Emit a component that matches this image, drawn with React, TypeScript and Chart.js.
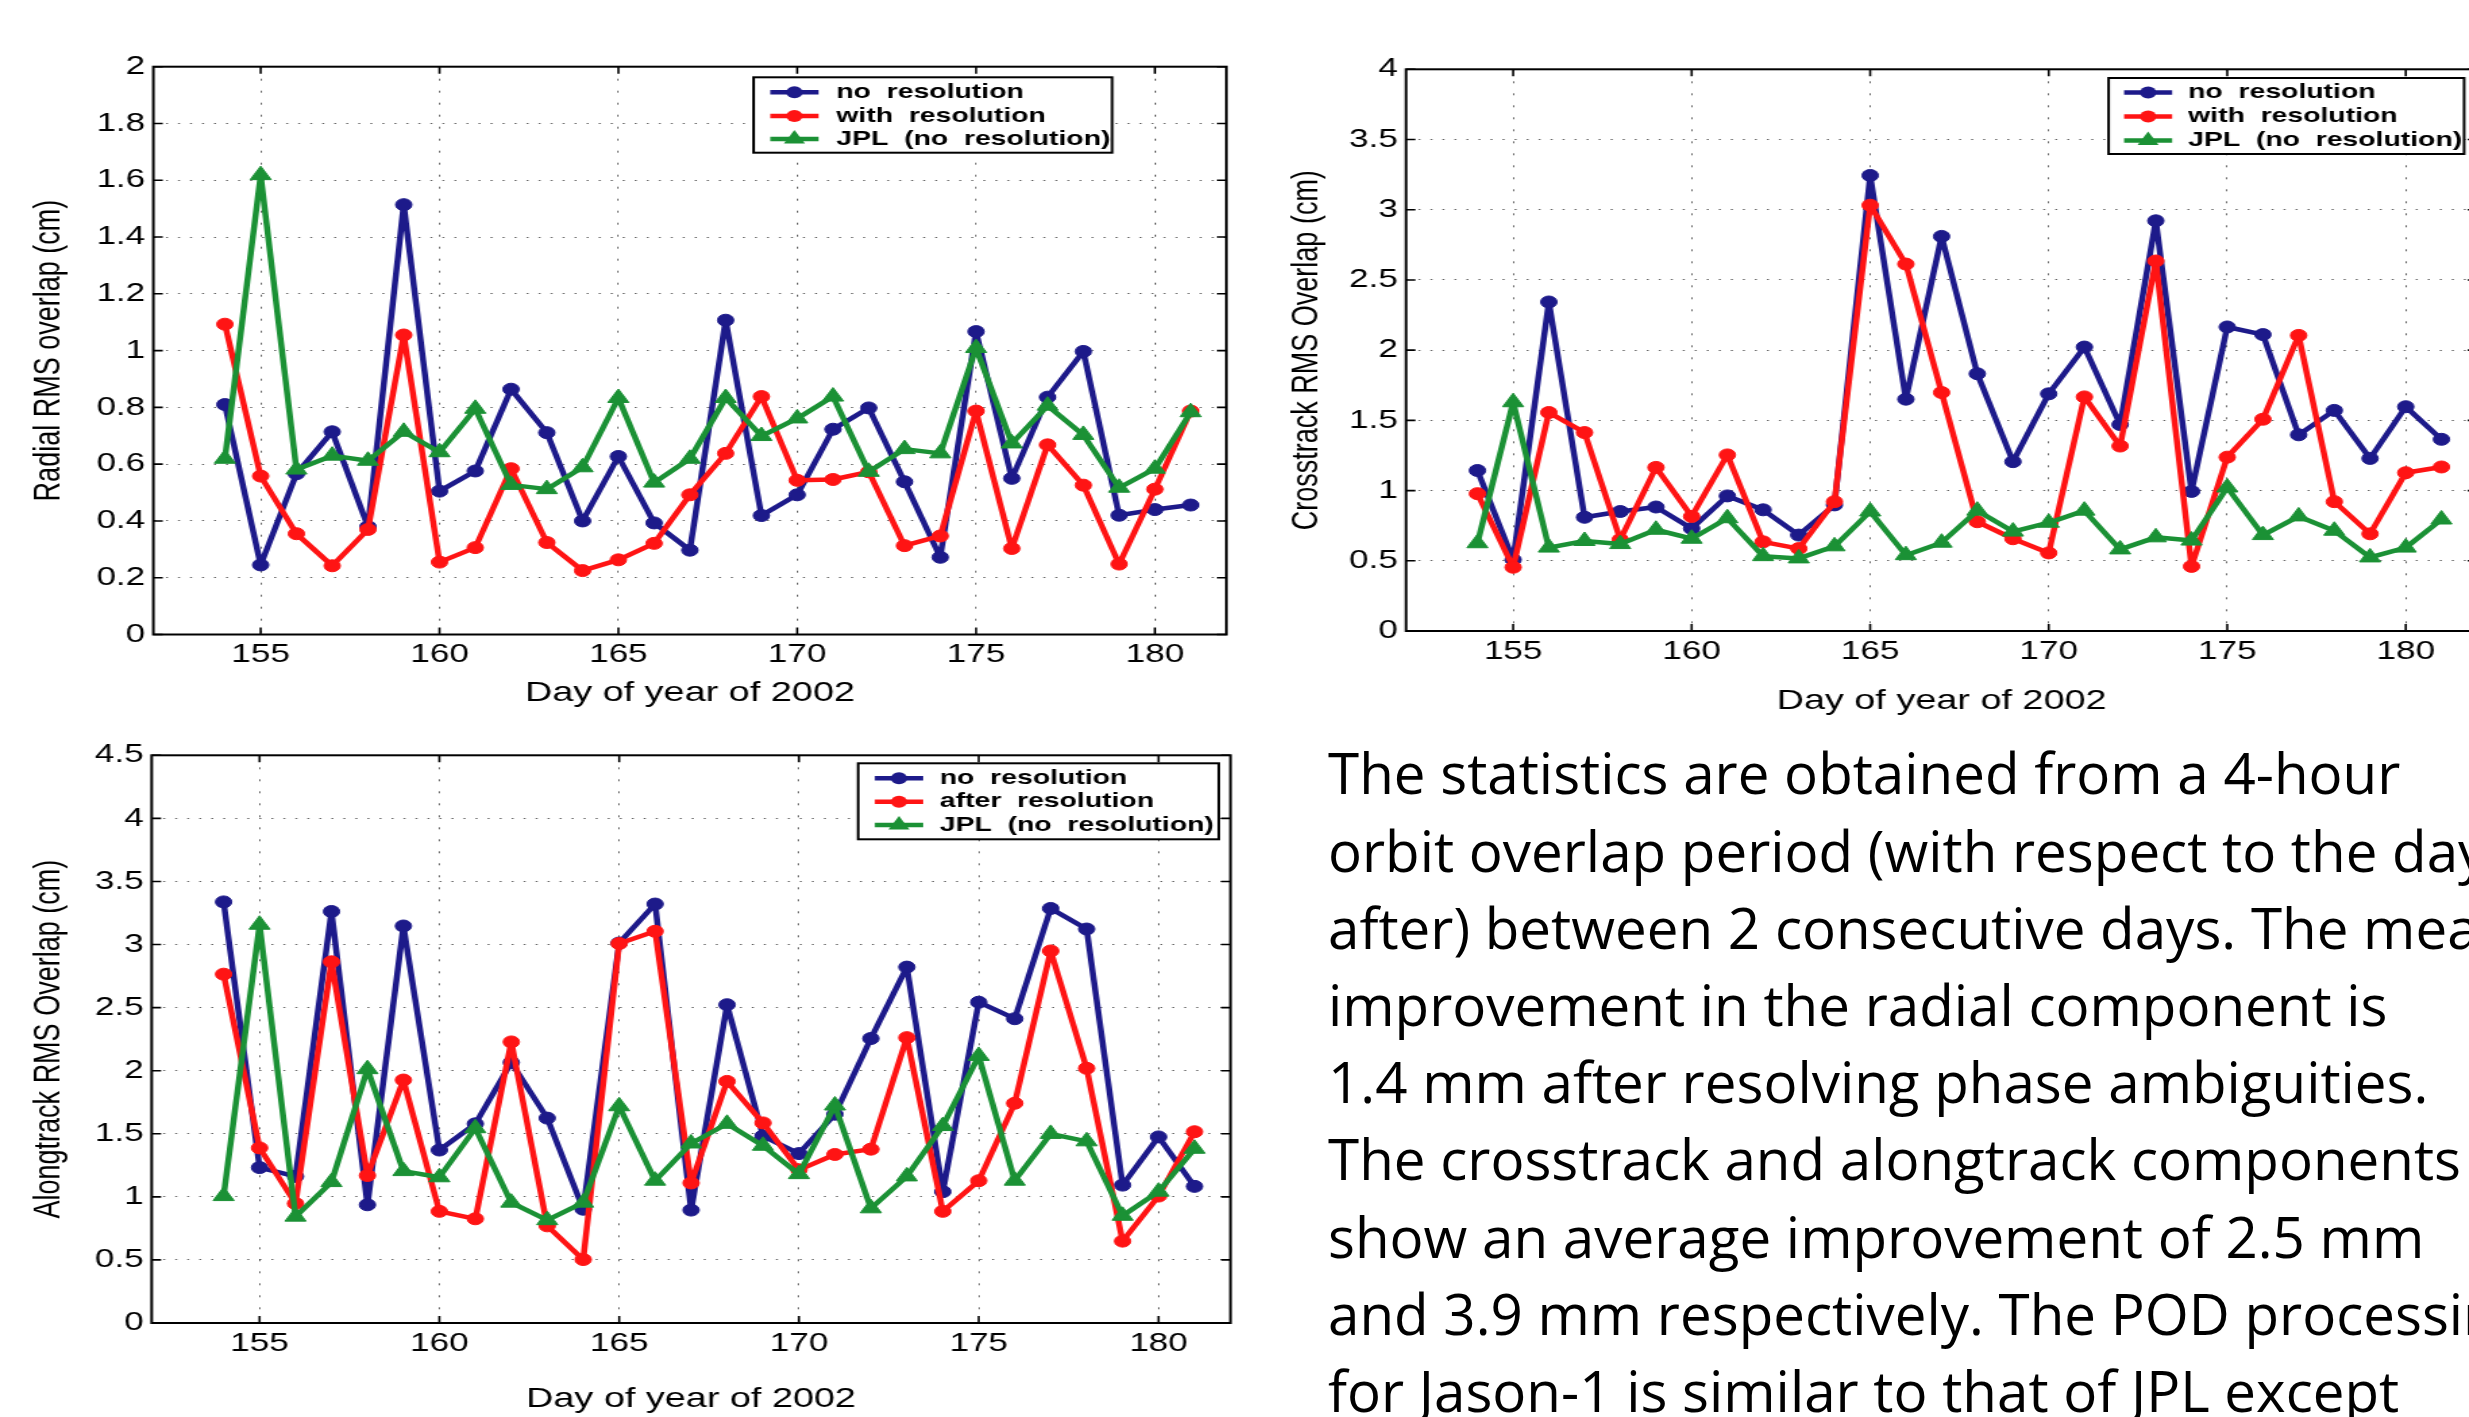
import React, { useEffect, useLayoutEffect, useRef, useState } from 'react';
import { Chart, registerables } from 'chart.js';

Chart.register(...registerables);

// ---------- data ----------
const days = [154, 155, 156, 157, 158, 159, 160, 161, 162, 163, 164, 165, 166, 167, 168, 169, 170, 171, 172, 173, 174, 175, 176, 177, 178, 179, 180, 181];

const radialNoRes = [0.81, 0.245, 0.566, 0.714, 0.38, 1.514, 0.505, 0.576, 0.864, 0.711, 0.40, 0.627, 0.393, 0.297, 1.107, 0.419, 0.492, 0.723, 0.798, 0.538, 0.272, 1.067, 0.55, 0.836, 0.997, 0.42, 0.44, 0.456];
const radialWithRes = [1.093, 0.558, 0.355, 0.242, 0.37, 1.055, 0.255, 0.306, 0.584, 0.324, 0.225, 0.263, 0.321, 0.492, 0.638, 0.838, 0.543, 0.546, 0.573, 0.313, 0.347, 0.787, 0.303, 0.668, 0.526, 0.248, 0.512, 0.787];
const radialJPL = [0.619, 1.618, 0.581, 0.63, 0.612, 0.714, 0.642, 0.795, 0.527, 0.512, 0.589, 0.833, 0.535, 0.619, 0.833, 0.699, 0.761, 0.838, 0.573, 0.653, 0.638, 1.009, 0.673, 0.806, 0.703, 0.517, 0.584, 0.783];

const crossNoRes = [1.143, 0.508, 2.343, 0.81, 0.851, 0.883, 0.73, 0.962, 0.863, 0.683, 0.898, 3.244, 1.651, 2.81, 1.832, 1.206, 1.689, 2.022, 1.47, 2.921, 0.994, 2.165, 2.111, 1.397, 1.571, 1.229, 1.597, 1.365];
const crossWithRes = [0.978, 0.454, 1.556, 1.413, 0.651, 1.165, 0.816, 1.254, 0.635, 0.587, 0.921, 3.032, 2.613, 1.698, 0.778, 0.657, 0.556, 1.667, 1.317, 2.635, 0.46, 1.238, 1.508, 2.105, 0.921, 0.692, 1.127, 1.168];
const crossJPL = [0.625, 1.629, 0.594, 0.641, 0.619, 0.721, 0.657, 0.803, 0.533, 0.517, 0.603, 0.851, 0.54, 0.629, 0.857, 0.708, 0.771, 0.857, 0.581, 0.667, 0.644, 1.022, 0.683, 0.816, 0.714, 0.524, 0.594, 0.794];

const alongNoRes = [3.338, 1.232, 1.162, 3.262, 0.937, 3.147, 1.371, 1.579, 2.065, 1.624, 0.902, 3.012, 3.321, 0.895, 2.523, 1.482, 1.343, 1.655, 2.255, 2.821, 1.041, 2.543, 2.412, 3.286, 3.123, 1.093, 1.475, 1.083];
const alongAfterRes = [2.765, 1.388, 0.947, 2.863, 1.169, 1.926, 0.885, 0.826, 2.228, 0.77, 0.503, 3.008, 3.105, 1.11, 1.915, 1.586, 1.214, 1.336, 1.378, 2.262, 0.885, 1.128, 1.742, 2.949, 2.019, 0.649, 1.006, 1.516];
const alongJPL = [1.006, 3.157, 0.843, 1.117, 2.012, 1.204, 1.155, 1.544, 0.954, 0.815, 0.954, 1.718, 1.128, 1.423, 1.579, 1.405, 1.18, 1.724, 0.909, 1.162, 1.561, 2.117, 1.128, 1.499, 1.44, 0.85, 1.041, 1.381];

const xTickValues = [155, 160, 165, 170, 175, 180];
const xTickLabels = ['155', '160', '165', '170', '175', '180'];

const radialYTicks = [0, 0.2, 0.4, 0.6, 0.8, 1, 1.2, 1.4, 1.6, 1.8, 2];
const radialYTickLabels = ['0', '0.2', '0.4', '0.6', '0.8', '1', '1.2', '1.4', '1.6', '1.8', '2'];
const crossYTicks = [0, 0.5, 1, 1.5, 2, 2.5, 3, 3.5, 4];
const crossYTickLabels = ['0', '0.5', '1', '1.5', '2', '2.5', '3', '3.5', '4'];
const alongYTicks = [0, 0.5, 1, 1.5, 2, 2.5, 3, 3.5, 4, 4.5];
const alongYTickLabels = ['0', '0.5', '1', '1.5', '2', '2.5', '3', '3.5', '4', '4.5'];

const radialLegend = ['no  resolution', 'with  resolution', 'JPL  (no  resolution)'];
const crossLegend = ['no  resolution', 'with  resolution', 'JPL  (no  resolution)'];
const alongLegend = ['no  resolution', 'after  resolution', 'JPL  (no  resolution)'];

const xTitle = 'Day of year of 2002';

const paragraphLines = [
  'The statistics are obtained from a 4-hour',
  'orbit overlap period (with respect to the day',
  'after) between 2 consecutive days. The mean',
  'improvement in the radial component is',
  '1.4 mm after resolving phase ambiguities.',
  'The crosstrack and alongtrack components',
  'show an average improvement of 2.5 mm',
  'and 3.9 mm respectively. The POD processing',
  'for Jason-1 is similar to that of JPL except',
];

// ---------- styles ----------
const BLUE = '#1d1a8a';
const RED = '#ff1414';
const GREEN = '#1b9135';
const FONT = "'Liberation Sans', Arial, Helvetica, sans-serif";
const STRETCH = 1.35;

// ---------- plugin: MATLAB-like frame, inward ticks, boxed legend ----------
const matlabPlugin = {
  id: 'matlabFrame',
  afterDraw(chart: any, _args: any, opts: any) {
    const { ctx, chartArea: a, scales } = chart;
    const xs = scales.x;
    const ys = scales.y;
    ctx.save();
    ctx.strokeStyle = '#000';
    ctx.lineWidth = 1.6;
    ctx.beginPath();
    for (const t of xs.ticks) {
      const px = xs.getPixelForValue(t.value);
      ctx.moveTo(px, a.bottom);
      ctx.lineTo(px, a.bottom - 7);
      ctx.moveTo(px, a.top);
      ctx.lineTo(px, a.top + 7);
    }
    for (const t of ys.ticks) {
      const py = ys.getPixelForValue(t.value);
      ctx.moveTo(a.left, py);
      ctx.lineTo(a.left + 7, py);
      ctx.moveTo(a.right, py);
      ctx.lineTo(a.right - 7, py);
    }
    ctx.stroke();
    ctx.lineWidth = 2;
    ctx.strokeRect(a.left, a.top, a.right - a.left, a.bottom - a.top);

    // legend
    const lg = opts.legend;
    if (lg) {
      const X = (v: number) => (v - opts.L) / opts.s;
      const Y = (v: number) => v - opts.T;
      const x0 = X(lg.box[0]), y0 = Y(lg.box[1]), x1 = X(lg.box[2]), y1 = Y(lg.box[3]);
      ctx.fillStyle = '#fff';
      ctx.fillRect(x0, y0, x1 - x0, y1 - y0);
      ctx.lineWidth = 2;
      ctx.strokeStyle = '#000';
      ctx.strokeRect(x0, y0, x1 - x0, y1 - y0);
      const datasets = chart.data.datasets;
      lg.rows.forEach((ry: number, i: number) => {
        const ds = datasets[i];
        const yy = Y(ry);
        const lx0 = X(lg.line[0]), lx1 = X(lg.line[1]);
        ctx.strokeStyle = ds.borderColor;
        ctx.lineWidth = ds.borderWidth;
        ctx.beginPath();
        ctx.moveTo(lx0, yy);
        ctx.lineTo(lx1, yy);
        ctx.stroke();
        const cx = (lx0 + lx1) / 2;
        ctx.fillStyle = ds.borderColor;
        ctx.beginPath();
        if (ds.pointStyle === 'triangle') {
          const r = ds.pointRadius;
          ctx.moveTo(cx, yy - r);
          ctx.lineTo(cx + r * Math.sin(Math.PI * 2 / 3), yy + r / 2);
          ctx.lineTo(cx - r * Math.sin(Math.PI * 2 / 3), yy + r / 2);
          ctx.closePath();
        } else {
          ctx.arc(cx, yy, ds.pointRadius, 0, Math.PI * 2);
        }
        ctx.fill();
        ctx.fillStyle = '#000';
        ctx.font = `bold 21px ${FONT}`;
        ctx.textBaseline = 'middle';
        ctx.textAlign = 'left';
        ctx.fillText(lg.labels[i], X(lg.textX), yy);
      });
    }
    ctx.restore();
  },
};

function makeDataset(label: string, values: number[], color: string, style: string, order: number) {
  return {
    label,
    data: days.map((d, i) => ({ x: d, y: values[i] })),
    borderColor: color,
    backgroundColor: color,
    borderWidth: 4.5,
    borderJoinStyle: 'round',
    borderCapStyle: 'round',
    pointStyle: style,
    pointRadius: style === 'triangle' ? 9 : 6,
    pointBackgroundColor: color,
    pointBorderColor: color,
    pointBorderWidth: 1,
    tension: 0,
    fill: false,
    order,
  };
}

interface Spec {
  L: number; T: number; w: number; h: number;
  padTop: number; padRight: number; yAxisW: number; xAxisH: number;
  xTitlePadBottom: number; yTitlePadTop: number;
  yMax: number; yTicks: number[]; yTickLabels: string[]; yTitle: string;
  series: number[][]; legendLabels: string[];
  legend: { box: number[]; rows: number[]; line: number[]; textX: number };
}

function MatlabChart({ spec }: { spec: Spec }) {
  const ref = useRef<HTMLCanvasElement>(null);
  useEffect(() => {
    const colors = [BLUE, RED, GREEN];
    const styles = ['circle', 'circle', 'triangle'];
    const orders = [3, 2, 1];
    const chart = new Chart(ref.current as HTMLCanvasElement, {
      type: 'line',
      data: {
        datasets: spec.series.map((v, i) => makeDataset(spec.legendLabels[i], v, colors[i], styles[i], orders[i])) as any,
      },
      options: {
        animation: false,
        responsive: false,
        maintainAspectRatio: false,
        devicePixelRatio: 1,
        layout: { padding: { top: spec.padTop, right: spec.padRight, left: 0, bottom: 0 } },
        plugins: {
          legend: { display: false },
          tooltip: { enabled: false },
          matlabFrame: {
            L: spec.L, T: spec.T, s: STRETCH,
            legend: { ...spec.legend, labels: spec.legendLabels },
          },
        } as any,
        scales: {
          x: {
            type: 'linear',
            min: 152,
            max: 182,
            afterBuildTicks: (s: any) => { s.ticks = xTickValues.map((v) => ({ value: v })); },
            afterFit: (s: any) => { s.height = spec.xAxisH; },
            ticks: {
              color: '#000',
              font: { family: FONT, size: 26 },
              padding: 5,
              maxRotation: 0,
              autoSkip: false,
              callback: (_v: any, i: number) => xTickLabels[i],
            },
            grid: { color: 'rgba(0,0,0,0.6)', lineWidth: 1, drawTicks: false, borderDash: [2, 10] } as any,
            border: { display: false, dash: [2, 10] },
            title: {
              display: true,
              text: xTitle,
              color: '#000',
              font: { family: FONT, size: 28 },
              padding: { top: 0, bottom: spec.xTitlePadBottom },
            },
          },
          y: {
            type: 'linear',
            min: 0,
            max: spec.yMax,
            afterBuildTicks: (s: any) => { s.ticks = spec.yTicks.map((v) => ({ value: v })); },
            afterFit: (s: any) => { s.width = spec.yAxisW; },
            ticks: {
              color: '#000',
              font: { family: FONT, size: 26 },
              padding: 6,
              autoSkip: false,
              callback: (_v: any, i: number) => spec.yTickLabels[i],
            },
            grid: { color: 'rgba(0,0,0,0.6)', lineWidth: 1, drawTicks: false, borderDash: [1.5, 7.4] } as any,
            border: { display: false, dash: [1.5, 7.4] },
            title: {
              display: true,
              text: spec.yTitle,
              color: '#000',
              font: { family: FONT, size: 27 },
              padding: { top: spec.yTitlePadTop, bottom: 0 },
            },
          },
        },
      },
      plugins: [matlabPlugin],
    });
    return () => chart.destroy();
  }, [spec]);
  return (
    <canvas
      ref={ref}
      width={spec.w}
      height={spec.h}
      style={{ position: 'absolute', left: spec.L, top: spec.T, width: spec.w * STRETCH, height: spec.h }}
    />
  );
}

const radialSpec: Spec = {
  L: 0, T: 0, w: 933, h: 720,
  padTop: 66.7, padRight: 933 - 1226 / STRETCH, yAxisW: 153.3 / STRETCH, xAxisH: 720 - 634.5,
  xTitlePadBottom: 10.2, yTitlePadTop: 20.8,
  yMax: 2, yTicks: radialYTicks, yTickLabels: radialYTickLabels, yTitle: 'Radial RMS overlap (cm)',
  series: [radialNoRes, radialWithRes, radialJPL], legendLabels: radialLegend,
  legend: { box: [753.3, 77.3, 1111.7, 152.7], rows: [92.3, 116, 139], line: [770, 818.3], textX: 836 },
};

const crossSpec: Spec = {
  L: 1270, T: 0, w: 911, h: 728,
  padTop: 69.3, padRight: 911 - (2477 - 1270) / STRETCH, yAxisW: (1406 - 1270) / STRETCH, xAxisH: 728 - 631,
  xTitlePadBottom: 10.2, yTitlePadTop: 11.7,
  yMax: 4, yTicks: crossYTicks, yTickLabels: crossYTickLabels, yTitle: 'Crosstrack RMS Overlap (cm)',
  series: [crossNoRes, crossWithRes, crossJPL], legendLabels: crossLegend,
  legend: { box: [2108.5, 78, 2464, 154], rows: [92.5, 116.5, 140.5], line: [2124, 2172], textX: 2188 },
};

const alongSpec: Spec = {
  L: 0, T: 725, w: 935, h: 692,
  padTop: 755.3 - 725, padRight: 935 - 1230.7 / STRETCH, yAxisW: 151.7 / STRETCH, xAxisH: 692 - (1323 - 725),
  xTitlePadBottom: 1.2, yTitlePadTop: 20.8,
  yMax: 4.5, yTicks: alongYTicks, yTickLabels: alongYTickLabels, yTitle: 'Alongtrack RMS Overlap (cm)',
  series: [alongNoRes, alongAfterRes, alongJPL], legendLabels: alongLegend,
  legend: { box: [858.3, 763.3, 1219, 839.3], rows: [778.3, 801.7, 825], line: [875, 923.3], textX: 940 },
};

function Paragraph() {
  const firstRef = useRef<HTMLSpanElement>(null);
  const [sx, setSx] = useState(1);
  useLayoutEffect(() => {
    const measure = () => {
      const w = firstRef.current ? firstRef.current.offsetWidth : 0;
      if (w) setSx(1072 / w);
    };
    measure();
    const f = (document as any).fonts;
    if (f && f.ready) f.ready.then(measure);
  }, []);
  return (
    <div
      style={{
        position: 'absolute',
        left: 1328,
        top: 734.3,
        fontFamily: "'Open Sans', 'Noto Sans', sans-serif",
        fontSize: 57,
        lineHeight: '77.2px',
        color: '#000',
        whiteSpace: 'nowrap',
        transform: `scaleX(${sx})`,
        transformOrigin: '0 0',
      }}
    >
      {paragraphLines.map((t, i) => (
        <div key={i}>{i === 0 ? <span ref={firstRef}>{t}</span> : t}</div>
      ))}
    </div>
  );
}

export default function App() {
  return (
    <div style={{ position: 'fixed', left: 0, top: 0, width: 2469, height: 1417, overflow: 'hidden', background: '#fff' }}>
      <MatlabChart spec={radialSpec} />
      <MatlabChart spec={crossSpec} />
      <MatlabChart spec={alongSpec} />
      <Paragraph />
    </div>
  );
}
